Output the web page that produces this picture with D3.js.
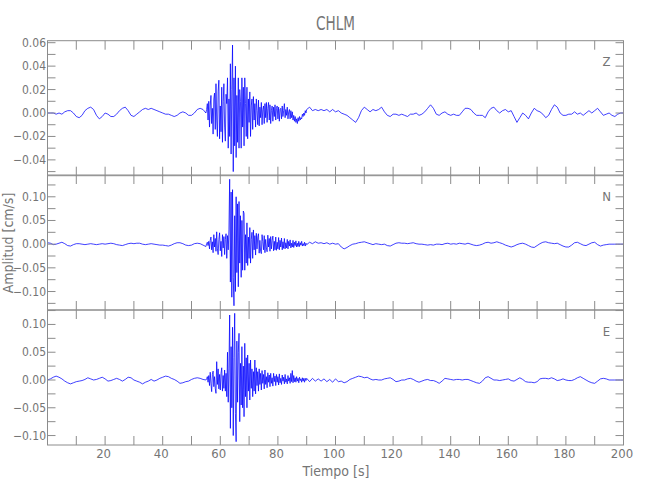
<!DOCTYPE html>
<html><head><meta charset="utf-8">
<script src="https://cdn.jsdelivr.net/npm/d3@7"></script>
<style>
html,body{margin:0;padding:0;background:#fff;}
text{font-family:"Liberation Sans Narrow","DejaVu Sans Condensed","Liberation Sans",sans-serif;fill:#757575;}
</style></head>
<body>
<svg id="chart" width="650" height="500"></svg>
<script>
// ---------- data ----------
const chartTitle = "CHLM";
const components = ["Z", "N", "E"];
const xTickLabels = [20, 40, 60, 80, 100, 120, 140, 160, 180, 200];

// sample times (s): pre-event every 1 s, strong motion every 0.25 s, coda every 1 s
const preT = d3.range(0, 56, 1);
const burstT = d3.range(55.25, 90.001, 0.25);
const postT = d3.range(91, 201, 1);

// Z component (cm/s)
const zPre = [
  0.000, 0.000, 0.000,-0.001, 0.000,-0.001, 0.001, 0.002, 0.002, 0.000,
 -0.003,-0.004,-0.002, 0.002, 0.004, 0.005, 0.003,-0.002,-0.005,-0.003,
  0.000,-0.001,-0.003,-0.003,-0.001, 0.002, 0.004, 0.005, 0.002,-0.002,
 -0.003,-0.001, 0.001, 0.003, 0.004, 0.003, 0.004, 0.003, 0.002, 0.001,
  0.000,-0.001,-0.001,-0.002,-0.003,-0.002, 0.000, 0.001, 0.000,-0.002,
 -0.002, 0.000, 0.003, 0.004, 0.003, 0.000];
const zBurst = [
  0.003, 0.008,-0.006, 0.010,  -0.012, 0.006, 0.015,-0.009,   0.004,-0.018, 0.012, 0.017,
 -0.014, 0.025,-0.006,-0.020,   0.018, 0.028,-0.022, 0.006,  -0.016, 0.022,-0.025, 0.010,
  0.025,-0.012,-0.024, 0.016,   0.008, 0.030,-0.030, 0.012,  -0.020, 0.042,-0.035, 0.020,
  0.058,-0.050, 0.030,-0.028,   0.040,-0.038, 0.015,-0.025,   0.030,-0.030, 0.020, 0.010,
 -0.030, 0.030,-0.012, 0.022,  -0.028, 0.030, 0.008,-0.020,   0.022,-0.022, 0.012,-0.008,
  0.018,-0.020, 0.006, 0.012,  -0.014, 0.014,-0.006, 0.008,  -0.012, 0.012, 0.002,-0.010,
  0.011,-0.011, 0.005,-0.004,   0.009,-0.010, 0.003, 0.006,  -0.009, 0.008,-0.004, 0.009,
 -0.008, 0.004, 0.009,-0.006,   0.007,-0.009, 0.002, 0.006,  -0.007, 0.005,-0.003, 0.007,
 -0.006, 0.004, 0.006,-0.005,   0.005,-0.007, 0.003, 0.004,  -0.005, 0.006,-0.003, 0.002,
  0.008,-0.004, 0.003,-0.002,   0.005,-0.005, 0.001, 0.003,  -0.005, 0.002,-0.004, 0.001,
 -0.006,-0.002,-0.007,-0.003,  -0.008,-0.005,-0.009,-0.004,  -0.007,-0.003,-0.006,-0.004,
 -0.005,-0.001,-0.003, 0.000,  -0.002, 0.002, 0.000, 0.003];
const zPost = [
  0.005, 0.002, 0.003, 0.002, 0.003, 0.002, 0.003, 0.001, 0.003, 0.001,
  0.002, 0.000,-0.001,-0.002,-0.004,-0.006,-0.008,-0.004, 0.002, 0.005,
  0.003, 0.001, 0.003, 0.002, 0.003, 0.005, 0.001,-0.002,-0.003,-0.001,
 -0.001,-0.002,-0.001,-0.002,-0.003,-0.001,-0.001, 0.000,-0.002,-0.001,
  0.001, 0.004, 0.007, 0.004,-0.001,-0.002, 0.000, 0.001,-0.001,-0.002,
 -0.001,-0.002,-0.002, 0.001, 0.004, 0.004, 0.003, 0.000,-0.002,-0.002,
 -0.002,-0.004, 0.001, 0.004, 0.005, 0.002, 0.000, 0.002, 0.003, 0.001,
  0.002,-0.003,-0.008,-0.004, 0.000,-0.002,-0.005, 0.000, 0.004, 0.002,
  0.001,-0.001,-0.004,-0.002, 0.003, 0.007, 0.005, 0.000,-0.002,-0.002,
 -0.001,-0.001, 0.001,-0.001, 0.000,-0.002, 0.000, 0.002, 0.000, 0.002,
  0.004, 0.001,-0.002,-0.001, 0.000,-0.002,-0.003,-0.001, 0.000, 0.000];

// N component (cm/s)
const nPre = [
  0.003, 0.002,-0.001, 0.000, 0.002, 0.004, 0.001,-0.003,-0.004,-0.001,
  0.001, 0.001, 0.000,-0.001, 0.000, 0.001, 0.000,-0.001, 0.000, 0.001,
  0.000, 0.001, 0.002, 0.001,-0.001,-0.002,-0.003,-0.001, 0.001, 0.002,
  0.001, 0.002, 0.002, 0.000,-0.001, 0.000, 0.001, 0.000,-0.001,-0.002,
 -0.002,-0.003,-0.004,-0.002, 0.001, 0.003, 0.003, 0.001,-0.002,-0.003,
 -0.002, 0.001, 0.002, 0.001,-0.002,-0.005];
const nBurst = [
  0.001, 0.004,-0.003, 0.006,  -0.010, 0.008, 0.015,-0.012,   0.005,-0.018, 0.020,-0.006,
  0.012,-0.015, 0.026,-0.010,  -0.022, 0.010, 0.024,-0.014,   0.006,-0.026, 0.020,-0.008,
  0.016,-0.022, 0.010, 0.022,  -0.030, 0.018,-0.012, 0.030,   0.137,-0.080, 0.110,-0.112,
  0.115,-0.070,-0.130, 0.060,  -0.100, 0.100,-0.060, 0.085,  -0.090, 0.090,-0.040, 0.060,
 -0.070, 0.050,-0.055, 0.070,   0.065,-0.055, 0.020,-0.040,   0.045,-0.045, 0.015,-0.030,
  0.035,-0.040, 0.010, 0.025,  -0.030, 0.030,-0.012, 0.018,  -0.023, 0.023,-0.010, 0.015,
  0.022,-0.019, 0.008,-0.015,  -0.020, 0.020, 0.006,-0.012,   0.018,-0.018, 0.010,-0.008,
 -0.016, 0.019,-0.006, 0.012,  -0.015, 0.016,-0.010, 0.008,   0.017,-0.014, 0.006,-0.012,
  0.015,-0.013, 0.004,-0.010,   0.014,-0.012, 0.008,-0.006,   0.013,-0.012, 0.005,-0.009,
  0.012,-0.010, 0.003,-0.008,   0.010,-0.010, 0.006,-0.004,   0.009,-0.008, 0.002,-0.006,
  0.008,-0.007, 0.004,-0.003,   0.007,-0.006, 0.002,-0.005,   0.006,-0.005, 0.003,-0.002,
  0.006,-0.004, 0.001,-0.003,   0.004,-0.004, 0.002,-0.001];
const nPost = [
  0.004, 0.001, 0.005, 0.002, 0.003, 0.001, 0.003, 0.000, 0.002, 0.000,
  0.001,-0.006,-0.010,-0.007,-0.003, 0.000, 0.001, 0.003, 0.004, 0.005,
  0.003, 0.001,-0.001, 0.001, 0.000,-0.001, 0.000,-0.003,-0.004,-0.001,
  0.002, 0.003, 0.002, 0.002, 0.001, 0.002, 0.003, 0.001, 0.000, 0.000,
 -0.001,-0.002,-0.001,-0.002, 0.000, 0.000,-0.001, 0.001, 0.002, 0.000,
  0.001, 0.000, 0.002, 0.001, 0.000, 0.002, 0.000,-0.002,-0.003,-0.002,
  0.000, 0.003, 0.004, 0.002, 0.003, 0.005, 0.003, 0.001,-0.002,-0.004,
 -0.006,-0.004,-0.001, 0.001, 0.002, 0.000,-0.003,-0.006,-0.007,-0.003,
  0.001, 0.004, 0.005, 0.003, 0.002, 0.001, 0.002,-0.001,-0.004,-0.006,
 -0.006,-0.002, 0.003, 0.004, 0.001,-0.002,-0.003, 0.000, 0.003, 0.004,
 -0.001,-0.004,-0.002,-0.001, 0.000, 0.000, 0.000, 0.000, 0.000, 0.000];

// E component (cm/s)
const ePre = [
  0.000, 0.002, 0.005, 0.007, 0.005, 0.002,-0.002,-0.005,-0.007,-0.005,
 -0.003,-0.002,-0.001, 0.001, 0.004, 0.002, 0.000, 0.001, 0.003, 0.005,
  0.002,-0.002,-0.001, 0.001, 0.003, 0.001,-0.002, 0.001, 0.005, 0.004,
  0.000,-0.002,-0.004,-0.007,-0.004,-0.002, 0.001,-0.002, 0.000, 0.003,
  0.005, 0.007, 0.006, 0.003, 0.001,-0.002,-0.006,-0.005,-0.003,-0.002,
  0.001, 0.003, 0.004, 0.003, 0.001, 0.000];
const eBurst = [
  0.002, 0.006,-0.004, 0.008,  -0.010, 0.014,-0.006,-0.021,   0.010, 0.016,-0.012, 0.006,
 -0.015,-0.024, 0.033,-0.008,   0.020,-0.016, 0.010,-0.018,   0.012, 0.022,-0.020, 0.008,
 -0.015, 0.018,-0.020, 0.012,  -0.030, 0.050,-0.040, 0.020,   0.117,-0.087, 0.060,-0.050,
  0.095,-0.100, 0.040, 0.120,  -0.060,-0.111, 0.070,-0.040,   0.050, 0.084,-0.075, 0.030,
 -0.045, 0.060,-0.050, 0.025,  -0.066, 0.066,-0.030, 0.040,  -0.050, 0.045,-0.020, 0.030,
 -0.036, 0.036,-0.015, 0.020,  -0.030, 0.015,-0.020, 0.036,  -0.025, 0.022,-0.010, 0.015,
 -0.020, 0.020,-0.008, 0.012,  -0.018, 0.017,-0.006, 0.010,  -0.016, 0.018,-0.008, 0.006,
 -0.014, 0.013,-0.004, 0.009,  -0.012, 0.012,-0.006, 0.004,  -0.011, 0.012,-0.003, 0.007,
 -0.010, 0.010,-0.004, 0.006,  -0.009, 0.011,-0.005, 0.003,  -0.008, 0.009,-0.002, 0.005,
 -0.007, 0.010,-0.004, 0.002,  -0.007, 0.008,-0.002, 0.004,  -0.006, 0.012,-0.003, 0.017,
 -0.005, 0.008,-0.003, 0.004,  -0.004, 0.006,-0.002, 0.003,  -0.005, 0.005,-0.001, 0.002,
 -0.004, 0.004,-0.002, 0.003,  -0.004, 0.003,-0.001, 0.003];
const ePost = [
 -0.003, 0.003,-0.002, 0.002,-0.002, 0.002,-0.003, 0.001,-0.004, 0.002,
 -0.003,-0.002,-0.005,-0.003, 0.001, 0.003, 0.005, 0.007, 0.006, 0.004,
  0.005, 0.002, 0.000, 0.001, 0.000, 0.000, 0.002, 0.003, 0.004, 0.001,
 -0.003,-0.002, 0.000, 0.000, 0.002, 0.003, 0.001,-0.002,-0.004,-0.002,
  0.000, 0.001,-0.001,-0.001,-0.003,-0.006,-0.002, 0.003, 0.002, 0.001,
  0.000, 0.001, 0.001, 0.000, 0.001, 0.001,-0.001,-0.003,-0.005,-0.006,
 -0.002, 0.004, 0.006, 0.003, 0.000, 0.000,-0.001, 0.000, 0.001, 0.002,
 -0.001,-0.002, 0.001, 0.004, 0.001,-0.003,-0.004,-0.004,-0.005,-0.003,
  0.002, 0.003, 0.003, 0.002, 0.004, 0.002,-0.001, 0.000, 0.002, 0.000,
 -0.001,-0.001, 0.001, 0.004, 0.006, 0.003, 0.000,-0.003,-0.005,-0.006,
 -0.002, 0.002, 0.003, 0.002, 0.000, 0.000, 0.000, 0.000, 0.000, 0.000];

// y-axis ranges and tick steps per panel
const yDomains = [[-0.0535, 0.0617], [-0.139, 0.146], [-0.117, 0.126]];
const yLabelTicks = [[-0.04, -0.02, 0, 0.02, 0.04, 0.06], [-0.10, -0.05, 0, 0.05, 0.10], [-0.10, -0.05, 0, 0.05, 0.10]];
const yMinorStep = [0.01, 0.025, 0.025];

// ---------- build ----------
const times = preT.concat(burstT, postT);
const series = [
  zPre.concat(zBurst, zPost),
  nPre.concat(nBurst, nPost),
  ePre.concat(eBurst, ePost)
];

const svg = d3.select("#chart");
const left = 47.5, right = 623.5;
const panelTops = [40.7, 175, 310], panelH = 135;
const axisColor = "#8c8c8c";
const x = d3.scaleLinear().domain([0, 200]).range([left, right]);
const xMinor = d3.range(10, 200, 10);
const fmt = d3.format(".2f");

svg.append("defs").selectAll("clipPath").data(panelTops).join("clipPath")
  .attr("id", (d, i) => "clip" + i)
  .append("rect").attr("x", left).attr("y", d => d).attr("width", right - left).attr("height", panelH);

components.forEach((comp, i) => {
  const top = panelTops[i], bottom = top + panelH;
  const y = d3.scaleLinear().domain(yDomains[i]).range([bottom, top]);
  const g = svg.append("g");

  // trace
  const line = d3.line().x(d => x(d[0])).y(d => y(d[1]));
  const pts = times.map((t, k) => [t, series[i][k]]);
  g.append("path").datum(pts)
    .attr("clip-path", `url(#clip${i})`)
    .attr("d", line)
    .attr("fill", "none")
    .attr("stroke", "#0000ff")
    .attr("stroke-width", 0.75)
    .attr("stroke-linejoin", "round");

  // frame
  g.append("rect").attr("x", left).attr("y", top).attr("width", right - left).attr("height", panelH)
    .attr("fill", "none").attr("stroke", axisColor).attr("stroke-width", 1);

  // x ticks (top and bottom, inward)
  const tl = 9;
  g.selectAll(".xtb").data(xMinor).join("line")
    .attr("x1", d => x(d)).attr("x2", d => x(d))
    .attr("y1", bottom).attr("y2", bottom - tl)
    .attr("stroke", axisColor);
  g.selectAll(".xtt").data(xMinor).join("line")
    .attr("x1", d => x(d)).attr("x2", d => x(d))
    .attr("y1", top).attr("y2", top + tl)
    .attr("stroke", axisColor);

  // y ticks (left and right)
  const step = yMinorStep[i];
  const yT = d3.range(Math.ceil(yDomains[i][0] / step - 1e-9), Math.floor(yDomains[i][1] / step + 1e-9) + 1).map(k => k * step);
  g.selectAll(".ytl").data(yT).join("line")
    .attr("x1", left).attr("x2", left + 8)
    .attr("y1", d => y(d)).attr("y2", d => y(d)).attr("stroke", axisColor);
  g.selectAll(".ytr").data(yT).join("line")
    .attr("x1", right).attr("x2", right - 8)
    .attr("y1", d => y(d)).attr("y2", d => y(d)).attr("stroke", axisColor);

  // y tick labels
  g.selectAll(".ylab").data(yLabelTicks[i]).join("text")
    .attr("x", left - 1.5).attr("y", d => y(d))
    .attr("text-anchor", "end").attr("dominant-baseline", "central")
    .attr("font-size", 12)
    .text(d => fmt(Math.abs(d) < 1e-9 ? 0 : d));

  // component label
  g.append("text").attr("x", 606.5).attr("y", top + 21)
    .attr("text-anchor", "middle").attr("dominant-baseline", "central")
    .attr("font-size", 13).text(comp);
});

// x tick labels on bottom panel
svg.selectAll(".xlab").data(xTickLabels).join("text")
  .attr("x", d => x(d) - 1.5).attr("y", 453)
  .attr("text-anchor", "middle").attr("dominant-baseline", "central")
  .attr("font-size", 13).text(d => d);

// titles
svg.append("text").attr("x", 335.5).attr("y", 23).attr("text-anchor", "middle")
  .attr("dominant-baseline", "central").attr("font-size", 20).attr("textLength", 39)
  .attr("lengthAdjust", "spacingAndGlyphs").text(chartTitle);
svg.append("text").attr("x", 336).attr("y", 471).attr("text-anchor", "middle")
  .attr("dominant-baseline", "central").attr("font-size", 14).text("Tiempo [s]");
svg.append("text").attr("transform", "translate(8,243) rotate(-90)").attr("text-anchor", "middle")
  .attr("dominant-baseline", "central").attr("font-size", 14).text("Amplitud [cm/s]");
</script>
</body></html>
